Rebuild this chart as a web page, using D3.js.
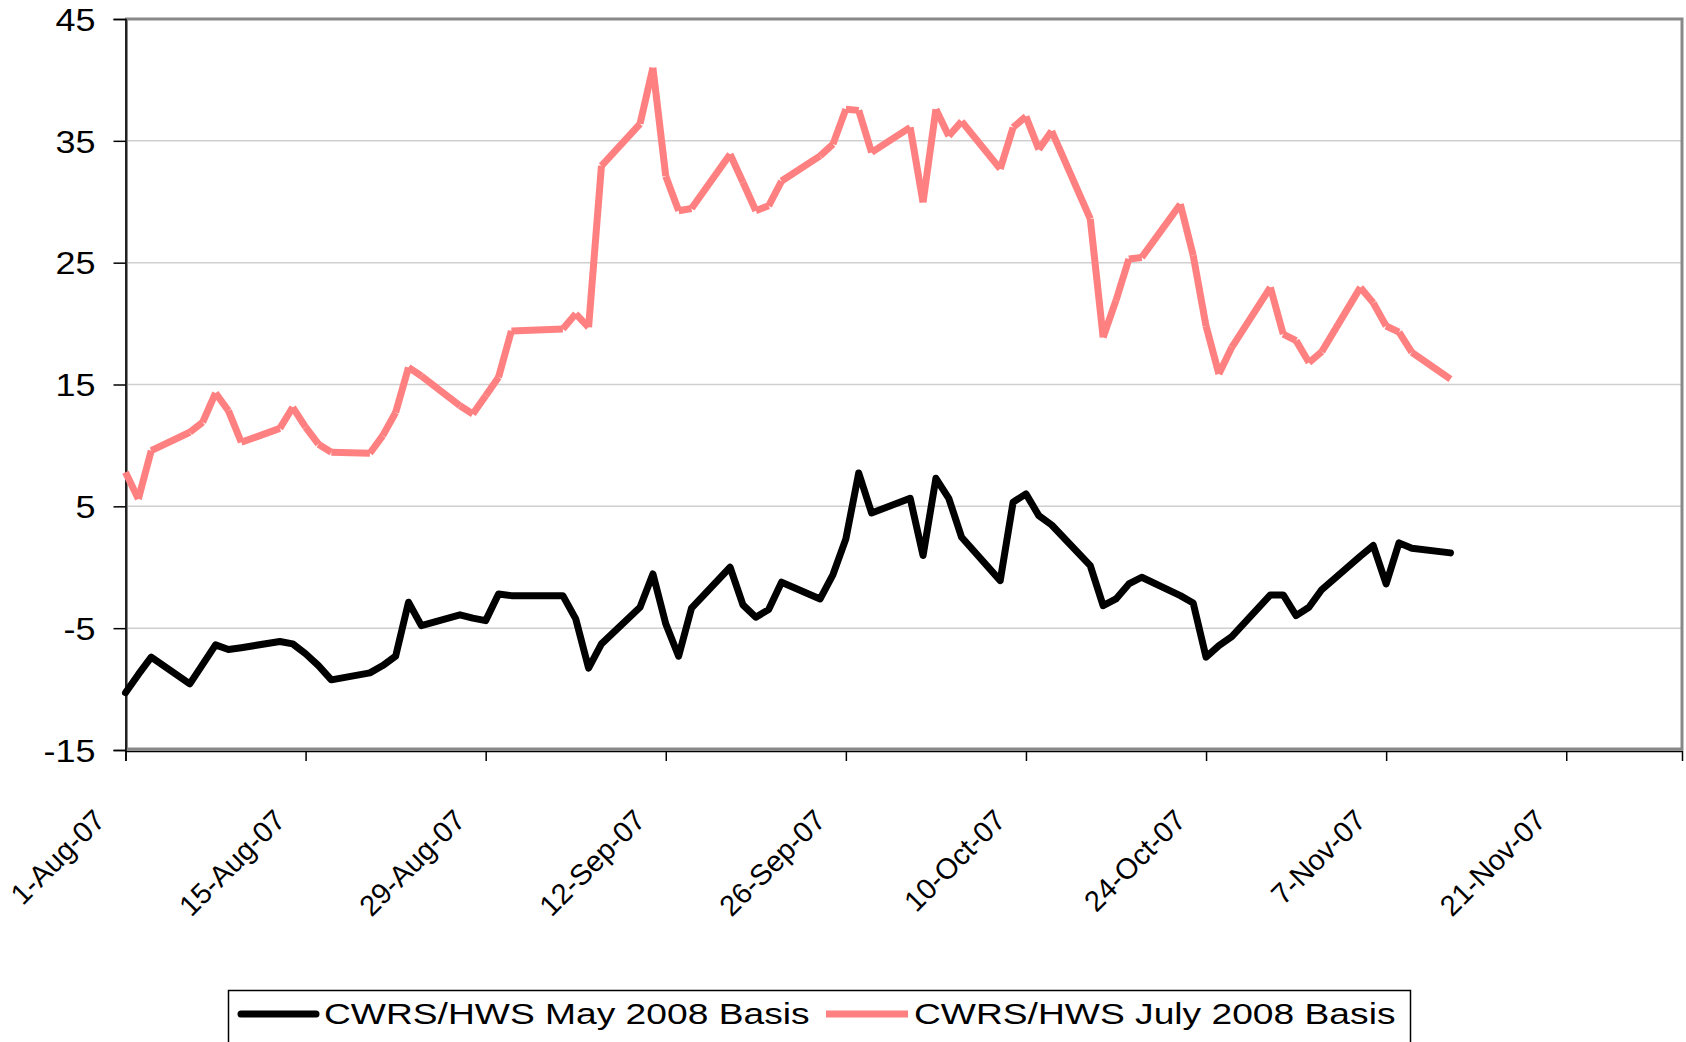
<html>
<head>
	<script src="https://d3js.org/d3.v7.min.js" charset="utf-8"></script>
	<style type="text/css">
	body { margin: 0; background: #fff; }
	text { font-family: "Liberation Sans", Arial, sans-serif; fill: #000; }
	</style>
</head>
<body>
<script type="text/javascript">
	// chart data
	var dates = ["2007-08-01","2007-08-02","2007-08-03","2007-08-06","2007-08-07","2007-08-08","2007-08-09","2007-08-10",
		"2007-08-13","2007-08-14","2007-08-15","2007-08-16","2007-08-17","2007-08-20","2007-08-21","2007-08-22","2007-08-23","2007-08-24",
		"2007-08-27","2007-08-28","2007-08-29","2007-08-30","2007-08-31","2007-09-04","2007-09-05","2007-09-06","2007-09-07",
		"2007-09-10","2007-09-11","2007-09-12","2007-09-13","2007-09-14","2007-09-17","2007-09-18","2007-09-19","2007-09-20","2007-09-21",
		"2007-09-24","2007-09-25","2007-09-26","2007-09-27","2007-09-28","2007-10-01","2007-10-02","2007-10-03","2007-10-04","2007-10-05",
		"2007-10-08","2007-10-09","2007-10-10","2007-10-11","2007-10-12","2007-10-15","2007-10-16","2007-10-17","2007-10-18","2007-10-19",
		"2007-10-22","2007-10-23","2007-10-24","2007-10-25","2007-10-26","2007-10-29","2007-10-30","2007-10-31","2007-11-01","2007-11-02",
		"2007-11-05","2007-11-06","2007-11-07","2007-11-08","2007-11-09","2007-11-12"];
	var may2008 = [-10.3,-8.8,-7.38,-9.57,-7.97,-6.37,-6.75,-6.6,
		-6.1,-6.29,-7.1,-8.07,-9.24,-8.67,-8.07,-7.3,-2.87,-4.79,
		-3.9,-4.18,-4.38,-2.19,-2.33,-2.33,-4.24,-8.28,-6.29,
		-3.28,-0.55,-4.65,-7.3,-3.36,0.0,-3.09,-4.1,-3.47,-1.23,
		-2.6,-0.6,2.33,7.74,4.46,5.66,0.96,7.3,5.66,2.46,
		-1.1,5.34,6.02,4.24,3.47,0.13,-3.15,-2.6,-1.37,-0.82,
		-2.33,-2.93,-7.38,-6.43,-5.7,-2.27,-2.27,-3.97,-3.28,-1.83,
		0.91,1.78,-1.37,2.0,1.56,1.18];
	var july2008 = [7.8,5.6,9.57,11.08,11.9,14.3,12.85,10.26,
		11.4,13.13,11.5,10.1,9.44,9.36,10.8,12.7,16.4,15.7,
		13.26,12.58,14.08,15.6,19.4,19.55,20.8,19.7,32.95,
		36.4,41.0,32.1,29.26,29.45,33.9,31.6,29.26,29.67,31.7,
		33.77,34.73,37.6,37.5,34.05,36.1,29.95,37.6,35.4,36.6,
		32.7,36.1,37.0,34.3,35.8,28.6,18.87,21.9,25.3,25.43,
		29.8,25.6,19.8,15.86,18.05,22.97,19.14,18.6,16.8,17.7,
		22.97,21.7,19.8,19.3,17.64,15.45];
	var seriesNames = ["CWRS/HWS May 2008 Basis", "CWRS/HWS July 2008 Basis"];
	var yTicks = [45, 35, 25, 15, 5, -5, -15];
	var xTickLabels = ["1-Aug-07","15-Aug-07","29-Aug-07","12-Sep-07","26-Sep-07","10-Oct-07","24-Oct-07","7-Nov-07","21-Nov-07"];

	var w = 1686;
	var h = 1042;
	var pLeft = 125.5, pRight = 1682, pTop = 19, pBottom = 750;

	var parse = d3.utcParse("%Y-%m-%d");
	var days = dates.map(parse);
	var x = d3.scaleUtc()
		.domain([parse("2007-08-01"), parse("2007-11-30")])
		.range([pLeft, pRight]);
	var y = d3.scaleLinear()
		.domain([-15, 45])
		.range([pBottom, pTop]);
	// every 14 days from the first date
	var xTicks = xTickLabels.map(function(d, i) { return d3.utcDay.offset(parse("2007-08-01"), i*14); });

	var svg = d3.select("body")
		.append("svg")
		.attr("width", w)
		.attr("height", h);

	// gridlines
	svg.append("g").selectAll("line")
		.data(yTicks.slice(1, -1))
		.enter().append("line")
		.attr("x1", pLeft).attr("x2", pRight)
		.attr("y1", function(d) { return y(d); })
		.attr("y2", function(d) { return y(d); })
		.attr("style", "stroke: #cfcfcf; stroke-width: 1.5;");

	// plot area border
	svg.append("rect")
		.attr("x", pLeft + 1).attr("y", pTop)
		.attr("width", pRight - pLeft - 1).attr("height", pBottom - pTop - 1)
		.attr("style", "fill: none; stroke: #888; stroke-width: 3;");

	// y axis
	var yAxis = svg.append("g").attr("transform", "translate(" + pLeft + ",0)")
		.call(d3.axisLeft(y).tickValues(yTicks).tickSize(12).tickFormat(d3.format("d")));
	yAxis.select(".domain").attr("stroke", "#000").attr("stroke-width", 1.5);
	yAxis.selectAll(".tick line").attr("stroke", "#000").attr("stroke-width", 1.5);
	yAxis.selectAll(".tick text").remove();
	yAxis.selectAll(".tick").append("text")
		.text(function(d) { return d; })
		.attr("text-anchor", "end")
		.attr("font-size", 31)
		.attr("dy", "0.36em")
		.attr("transform", "translate(-30,0) scale(1.16,1)");

	// x axis
	var xAxis = svg.append("g").attr("transform", "translate(0," + (pBottom + 1) + ")")
		.call(d3.axisBottom(x).tickValues(xTicks).tickSize(10).tickFormat(function(d, i) { return xTickLabels[i]; }));
	xAxis.select(".domain").attr("stroke", "#000").attr("stroke-width", 1.5);
	xAxis.selectAll(".tick line").attr("stroke", "#000").attr("stroke-width", 1.5);
	xAxis.selectAll(".tick text")
		.attr("font-size", 29)
		.attr("font-family", "'Liberation Sans', Arial, sans-serif")
		.attr("fill", "#000")
		.attr("text-anchor", "end")
		.attr("y", 0).attr("dy", 0)
		.attr("transform", "translate(-19,71) rotate(-45)");

	// lines
	var line = d3.line()
		.x(function(d) { return x(d[0]); })
		.y(function(d) { return y(d[1]); });

	var julyPts = d3.zip(days, july2008);
	svg.append("g").selectAll("path")
		.data(d3.pairs(julyPts))
		.enter().append("path")
		.attr("d", function(p) { return line(p); })
		.attr("style", "fill: none; stroke: #ff8080; stroke-width: 7; stroke-linecap: butt;");

	svg.append("path")
		.attr("d", line(d3.zip(days, may2008)))
		.attr("style", "fill: none; stroke: #000; stroke-width: 7; stroke-linejoin: round; stroke-linecap: round;");

	// legend
	var lg = svg.append("g");
	lg.append("rect")
		.attr("x", 228.5).attr("y", 990.5)
		.attr("width", 1182).attr("height", 70)
		.attr("style", "fill: #fff; stroke: #000; stroke-width: 1.5;");
	lg.append("line")
		.attr("x1", 241).attr("x2", 316).attr("y1", 1014).attr("y2", 1014)
		.attr("style", "stroke: #000; stroke-width: 7; stroke-linecap: round;");
	lg.append("line")
		.attr("x1", 826).attr("x2", 908).attr("y1", 1014).attr("y2", 1014)
		.attr("style", "stroke: #ff8080; stroke-width: 7;");
	lg.append("text")
		.text(seriesNames[0])
		.attr("font-size", 30)
		.attr("transform", "translate(324,1024) scale(1.24,1)");
	lg.append("text")
		.text(seriesNames[1])
		.attr("font-size", 30)
		.attr("transform", "translate(914,1024) scale(1.24,1)");
</script>
</body>
</html>
